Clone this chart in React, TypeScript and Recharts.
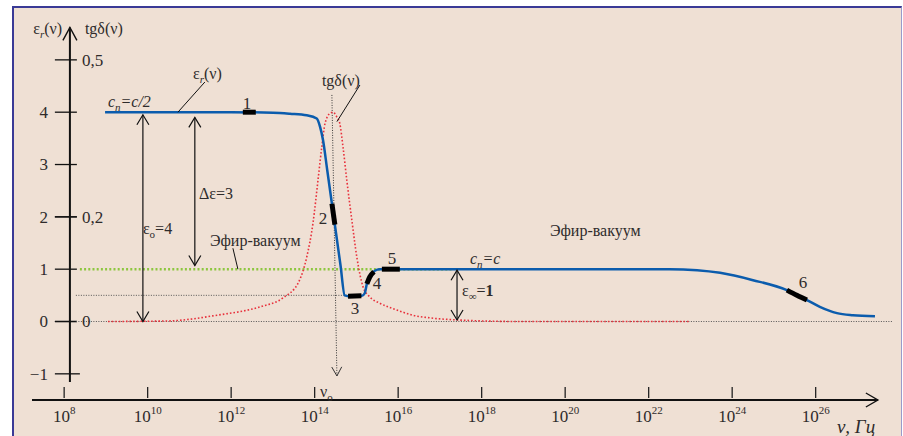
import React from "react";
import { ComposedChart, Line, XAxis, YAxis, ReferenceLine, ReferenceDot } from "recharts";

// x = lg(ν, Гц); left axis ε_r, right-hand labels tgδ (tgδ = ε/10 on the same height)
const FREQ_TICKS = [8, 10, 12, 14, 16, 18, 20, 22, 24, 26];
const EPS_TICKS = [4, 3, 2, 1, 0, -1];
const TG_TICKS = [0.5, 0.2, 0];
const TG_TICK_LABELS = ["0,5", "0,2", "0"];

const EPS_LG = [8.98, 10, 12, 13.0, 13.41, 13.81, 14.05, 14.13, 14.2, 14.3, 14.46, 14.62, 14.72, 14.85, 15.13, 15.2, 15.25, 15.32, 15.44, 15.56, 15.8, 18, 22.5, 23.16, 23.71, 24.5, 25.31, 25.79, 26.1, 26.51, 26.89, 27.42];
const EPS_VAL = [4, 4, 4, 3.99, 3.97, 3.94, 3.88, 3.72, 3.47, 2.9, 1.985, 1.07, 0.5, 0.48, 0.49, 0.54, 0.72, 0.85, 0.97, 1, 1, 1, 1, 0.98, 0.93, 0.79, 0.6, 0.41, 0.28, 0.16, 0.12, 0.1];

const TG_LG = [9.05, 10.46, 11.66, 12.69, 13.24, 13.62, 13.81, 13.96, 14.08, 14.17, 14.25, 14.37, 14.44, 14.53, 14.6, 14.68, 14.77, 14.89, 15.01, 15.16, 15.32, 15.56, 15.97, 16.35, 16.76, 17.41, 18.92, 22.99];
const TG_VAL = [0, 0.001, 0.012, 0.028, 0.045, 0.076, 0.123, 0.188, 0.27, 0.333, 0.379, 0.398, 0.4, 0.391, 0.379, 0.333, 0.27, 0.194, 0.123, 0.066, 0.047, 0.035, 0.022, 0.012, 0.007, 0.003, 0, 0];

// thick black marks 1..6 on the ε_r curve
const MARK_1 = { lg: [12.28, 12.59], eps: [4, 4] };
const MARK_2 = { lg: [14.414, 14.484], eps: [2.25, 1.85] };
const MARK_3 = { lg: [14.8, 15.12], eps: [0.485, 0.49] };
const MARK_4 = { lg: [15.25, 15.32, 15.42], eps: [0.72, 0.85, 0.95] };
const MARK_5 = { lg: [15.61, 16.04], eps: [1, 1] };
const MARK_6 = { lg: [25.31, 25.55, 25.79], eps: [0.6, 0.5, 0.41] };
const MARKS = [MARK_1, MARK_2, MARK_3, MARK_4, MARK_5, MARK_6];

const zip = (lg: number[], v: number[], key: string) => lg.map((x, i) => ({ lg: x, [key]: v[i] }));
const epsData = zip(EPS_LG, EPS_VAL, "eps");
const tgData = zip(TG_LG, TG_VAL, "tg");

const FONT = '"Liberation Serif", "Times New Roman", serif';
const INK = "#2e2b2b";
const BG = "#efe0d4";

function headPath(xt: number, yt: number, xf: number, yf: number, len: number, half: number) {
  const d = Math.hypot(xt - xf, yt - yf) || 1;
  const ux = (xt - xf) / d;
  const uy = (yt - yf) / d;
  const bx = xt - ux * len;
  const by = yt - uy * len;
  return `M${bx - uy * half},${by + ux * half}L${xt},${yt}L${bx + uy * half},${by - ux * half}`;
}

type Opt = { heads?: "none" | "end" | "both"; len?: number; half?: number; stroke?: string; width?: number; dash?: string; axis?: string };

const seg = (key: string, a: [number, number], b: [number, number], o: Opt = {}) => {
  const { heads = "none", len = 10, half = 5, stroke = "#111", width = 1.2, dash, axis = "eps" } = o;
  return (
    <ReferenceLine
      key={key}
      yAxisId={axis}
      ifOverflow="visible"
      segment={[{ x: a[0], y: a[1] }, { x: b[0], y: b[1] }]}
      shape={(p: any) => (
        <g>
          <line x1={p.x1} y1={p.y1} x2={p.x2} y2={p.y2} stroke={stroke} strokeWidth={width} strokeDasharray={dash} />
          {heads !== "none" && (
            <path d={headPath(p.x2, p.y2, p.x1, p.y1, len, half)} fill="none" stroke={stroke} strokeWidth={Math.min(width, 1.4)} />
          )}
          {heads === "both" && (
            <path d={headPath(p.x1, p.y1, p.x2, p.y2, len, half)} fill="none" stroke={stroke} strokeWidth={Math.min(width, 1.4)} />
          )}
        </g>
      )}
    />
  );
};

const note = (key: string, x: number, y: number, content: React.ReactNode, anchor = "start", size = 16, axis = "eps", italic = false) => (
  <ReferenceDot
    key={key}
    yAxisId={axis}
    x={x}
    y={y}
    r={0}
    ifOverflow="visible"
    shape={(p: any) => (
      <text x={p.cx} y={p.cy} dy="0.35em" textAnchor={anchor as any} fontSize={size} fontFamily={FONT} fill={INK} fontStyle={italic ? "italic" : "normal"}>
        {content}
      </text>
    )}
  />
);

function FreqTick(props: any) {
  const { x, y, payload } = props;
  return (
    <g>
      <line x1={x} x2={x} y1={y - 13} y2={y - 2} stroke="#222" strokeWidth={1.3} />
      <text x={x} y={y + 22} textAnchor="middle" fontSize={17} fontFamily={FONT} fill={INK}>
        10
        <tspan fontSize={11} dy={-8}>{payload.value}</tspan>
      </text>
    </g>
  );
}

const sub = (s: string, size = 11, italic = false) => (
  <tspan dy={4} fontSize={size} fontStyle={italic ? "italic" : "normal"}>{s}</tspan>
);
const back = (s: React.ReactNode, italic = false) => (
  <tspan dy={-4} fontStyle={italic ? "italic" : "normal"}>{s}</tspan>
);

export default function App() {
  return (
    <div style={{ position: "absolute", left: 0, top: 0, width: 903, height: 436, overflow: "hidden", background: "#fff" }}>
      <div
        style={{
          position: "absolute",
          left: 12,
          top: 6,
          width: 890,
          height: 440,
          boxSizing: "border-box",
          background: BG,
          borderLeft: "2px solid #3a3a96",
          borderTop: "2px solid #3a3a96",
          borderRight: "1px solid #9a9acb",
        }}
      />
      <div style={{ position: "absolute", left: 0, top: 0 }}>
        <ComposedChart width={903} height={436} margin={{ top: 18, right: 8, bottom: 6, left: 32 }}>
          <XAxis
            type="number"
            dataKey="lg"
            domain={[7.23, 27.9]}
            allowDataOverflow
            ticks={FREQ_TICKS}
            interval={0}
            axisLine={false}
            tickLine={false}
            tickSize={0}
            tickMargin={0}
            height={30}
            tick={(p: any) => <FreqTick {...p} />}
          />
          <YAxis yAxisId="eps" type="number" domain={[-1.5, 5.8]} allowDataOverflow hide />
          <YAxis yAxisId="tg" type="number" domain={[-0.15, 0.58]} allowDataOverflow hide />

          {/* axes */}
          {seg("xaxis", [7.23, -1.5], [27.49, -1.5], { heads: "end", len: 12, half: 7, width: 2 })}
          {seg("yaxis", [8.138, -1.156], [8.138, 5.62], { heads: "end", len: 13, half: 7, width: 2 })}
          {EPS_TICKS.map((v) => seg(`et${v}`, [7.778, v], [v === -1 ? 8.377 : 8.305, v], { width: 1.3 }))}
          {TG_TICKS.map((v) => seg(`tt${v}`, [7.778, v], [8.305, v], { width: 1.3, axis: "tg" }))}
          {EPS_TICKS.map((v) => note(`el${v}`, 7.611, v, v < 0 ? `\u2212${-v}` : String(v), "end", 17))}
          {TG_TICKS.map((v, i) => note(`tl${v}`, 8.425, v, TG_TICK_LABELS[i], "start", 17, "tg"))}
          {note("ttl-eps", 7.95, 5.6, <>ε{sub("r", 11, true)}{back("(ν)")}</>, "end", 16)}
          {note("ttl-tg", 8.497, 5.6, "tgδ(ν)", "start", 16)}

          {/* dotted guides */}
          {seg("g05", [8.281, 0.5], [14.77, 0.5], { stroke: "#555", width: 1, dash: "1 1.5" })}
          {seg("g0", [8.281, 0], [27.85, 0], { stroke: "#555", width: 1, dash: "1 1.5" })}
          {seg("vac", [8.377, 1], [17.31, 1], { stroke: "#8dc63f", width: 2.5, dash: "2 2.2" })}
          {seg("nu0", [14.413, 4.33], [14.533, -1.04], { heads: "end", len: 9, half: 5, stroke: "#333", width: 1, dash: "1 1.5" })}

          <Line yAxisId="tg" data={tgData} dataKey="tg" type="monotone" stroke="#e8313c" strokeWidth={1.6} strokeDasharray="1.6 2" dot={false} activeDot={false} isAnimationActive={false} />
          <Line yAxisId="eps" data={epsData} dataKey="eps" type="monotone" stroke="#0b5cad" strokeWidth={2.5} dot={false} activeDot={false} isAnimationActive={false} />
          {MARKS.map((m, i) => (
            <Line key={`m${i}`} yAxisId="eps" data={zip(m.lg, m.eps, "eps")} dataKey="eps" type="monotone" stroke="#000" strokeWidth={5} dot={false} activeDot={false} isAnimationActive={false} />
          ))}

          {/* dimension arrows and leaders */}
          {seg("a-eps0", [9.886, 3.95], [9.886, 0], { heads: "both", len: 10, half: 6 })}
          {seg("a-deps", [11.13, 3.9], [11.13, 1.07], { heads: "both", len: 10, half: 6 })}
          {seg("a-einf", [17.41, 0.98], [17.41, 0.03], { heads: "both", len: 10, half: 6 })}
          {seg("l-eps", [11.371, 4.577], [10.725, 4], { width: 1 })}
          {seg("l-tg", [15.084, 4.519], [14.533, 3.82], { width: 1 })}
          {seg("l-vac", [12.042, 1.4], [12.162, 1], { width: 1 })}

          {/* annotations */}
          {note("cn2", 9.048, 4.21, <>c{sub("n", 11, true)}{back("=c/2", true)}</>, "start", 16, "eps", true)}
          {note("n1", 12.377, 4.175, "1", "middle", 17)}
          {note("lab-eps", 11.084, 4.74, <>ε{sub("r", 11, true)}{back("(ν)")}</>, "start", 16)}
          {note("lab-tg", 14.174, 4.615, "tgδ(ν)", "start", 16)}
          {note("deps", 11.228, 2.455, "Δε=3", "start", 16)}
          {note("eps0", 9.886, 1.787, <>ε{sub("o")}{back("=4")}</>, "start", 16)}
          {note("vac1", 11.491, 1.557, "Эфир-вакуум", "start", 16)}
          {note("n2", 14.198, 1.978, "2", "middle", 17)}
          {note("n3", 14.964, 0.258, "3", "middle", 17)}
          {note("n4", 15.491, 0.736, "4", "middle", 17)}
          {note("n5", 15.85, 1.213, "5", "middle", 17)}
          {note("cn", 17.719, 1.213, <>c{sub("n", 11, true)}{back("=c", true)}</>, "start", 16, "eps", true)}
          {note("einf", 17.527, 0.602, <>ε{sub("∞")}{back(<>=<tspan fontWeight="bold">1</tspan></>)}</>, "start", 16)}
          {note("vac2", 19.635, 1.748, "Эфир-вакуум", "start", 16)}
          {note("n6", 25.695, 0.755, "6", "middle", 17)}
          {note("nu0t", 14.126, -1.328, <>ν{sub("o")}</>, "start", 16)}
          {note("axis-x", 26.509, -2.0, "ν, Гц", "start", 19, "eps", true)}
        </ComposedChart>
      </div>
    </div>
  );
}
